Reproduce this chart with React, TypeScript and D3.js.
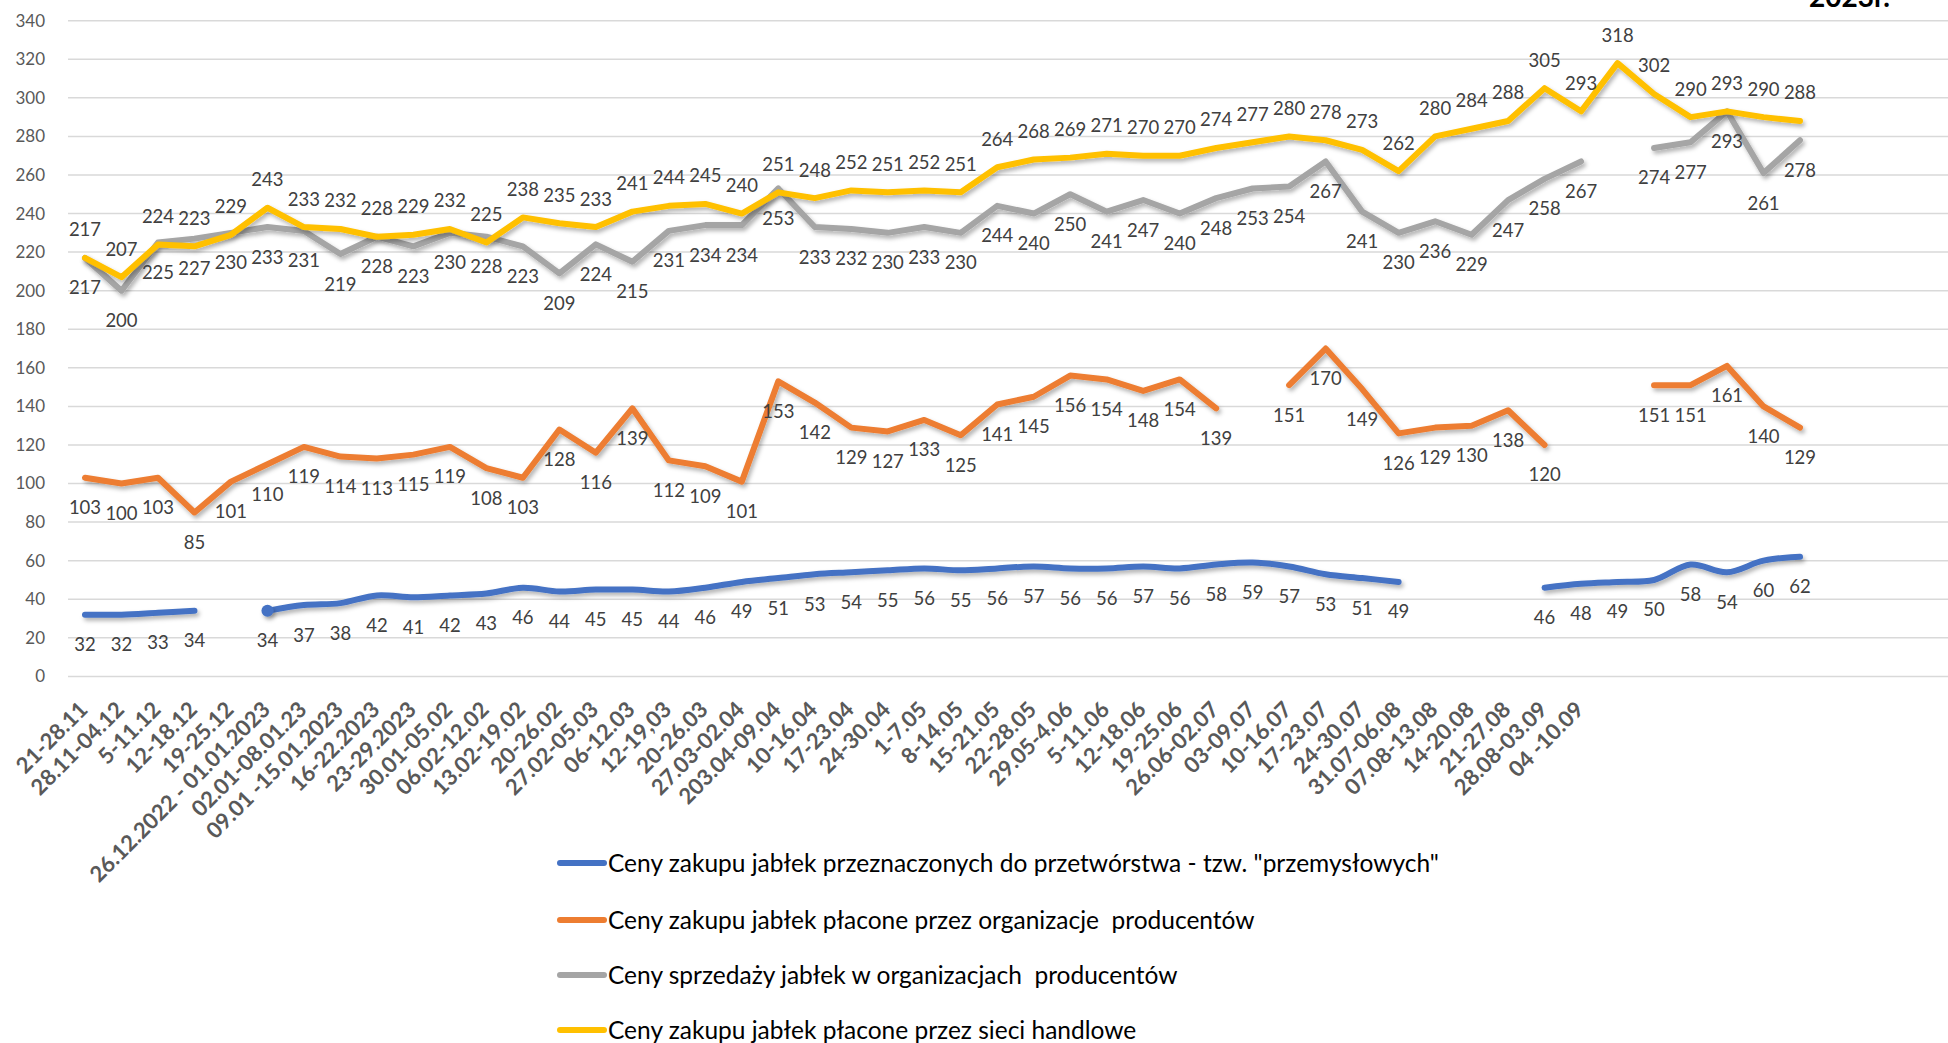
import React, { useRef, useEffect } from 'react';
import * as d3 from 'd3';

// week labels on the x axis (the last six points have no label)
const weeks = [
  '21-28.11', '28.11-04.12', '5-11.12', '12-18.12', '19-25.12',
  '26.12.2022 - 01.01.2023', '02.01-08.01.23', '09.01 -15.01.2023', '16-22.2023', '23-29.2023',
  '30.01-05.02', '06.02-12.02', '13.02-19.02', '20-26.02', '27.02-05.03',
  '06-12.03', '12-19,03', '20-26.03', '27.03-02.04', '203.04-09.04',
  '10-16.04', '17-23.04', '24-30.04', '1-7.05', '8-14.05',
  '15-21.05', '22-28.05', '29.05-4.06', '5-11.06', '12-18.06',
  '19-25.06', '26.06-02.07', '03-09.07', '10-16.07', '17-23.07',
  '24-30.07', '31.07-06.08', '07.08-13.08', '14-20.08', '21-27.08',
  '28.08-03.09', '04 -10.09',
];

const industrial = [
  32, 32, 33, 34, null, 34, 37, 38, 42, 41, 42, 43, 46, 44, 45, 45, 44, 46, 49, 51,
  53, 54, 55, 56, 55, 56, 57, 56, 56, 57, 56, 58, 59, 57, 53, 51, 49, null, null, null,
  46, 48, 49, 50, 58, 54, 60, 62,
];

const poBuying = [
  103, 100, 103, 85, 101, 110, 119, 114, 113, 115, 119, 108, 103, 128, 116, 139, 112, 109, 101, 153,
  142, 129, 127, 133, 125, 141, 145, 156, 154, 148, 154, 139, null, 151, 170, 149, 126, 129, 130, 138,
  120, null, null, 151, 151, 161, 140, 129,
];

const poSelling = [
  217, 200, 225, 227, 230, 233, 231, 219, 228, 223, 230, 228, 223, 209, 224, 215, 231, 234, 234, 253,
  233, 232, 230, 233, 230, 244, 240, 250, 241, 247, 240, 248, 253, 254, 267, 241, 230, 236, 229, 247,
  258, 267, null, 274, 277, 293, 261, 278,
];

const retail = [
  217, 207, 224, 223, 229, 243, 233, 232, 228, 229, 232, 225, 238, 235, 233, 241, 244, 245, 240, 251,
  248, 252, 251, 252, 251, 264, 268, 269, 271, 270, 270, 274, 277, 280, 278, 273, 262, 280, 284, 288,
  305, 293, 318, 302, 290, 293, 290, 288,
];

const yTicks = [0, 20, 40, 60, 80, 100, 120, 140, 160, 180, 200, 220, 240, 260, 280, 300, 320, 340];

const legendNames = [
  'Ceny zakupu jabłek przeznaczonych do przetwórstwa - tzw. "przemysłowych"',
  'Ceny zakupu jabłek płacone przez organizacje  producentów',
  'Ceny sprzedaży jabłek w organizacjach  producentów',
  'Ceny zakupu jabłek płacone przez sieci handlowe',
];

const FONT = 'Lato, "Open Sans", sans-serif';

const App = () => {
  const ref = useRef<SVGSVGElement>(null);

  useEffect(() => {
    const W = 1948;
    const H = 1043;
    const svg = d3.select(ref.current).attr('width', W).attr('height', H);
    svg.selectAll('*').remove();

    const defs = svg.append('defs');
    const f = defs
      .append('filter')
      .attr('id', 'shadow')
      .attr('filterUnits', 'userSpaceOnUse')
      .attr('x', 0)
      .attr('y', 0)
      .attr('width', W)
      .attr('height', H);
    f.append('feDropShadow')
      .attr('dx', 2)
      .attr('dy', 3)
      .attr('stdDeviation', 2)
      .attr('flood-color', '#000')
      .attr('flood-opacity', 0.3);

    const x = d3.scalePoint<number>().domain(d3.range(retail.length)).range([85, 1800]);
    const y = d3.scaleLinear().domain([0, 340]).range([676.4, 20.7]);

    // gridlines + y labels
    svg
      .append('g')
      .selectAll('line')
      .data(yTicks)
      .enter()
      .append('line')
      .attr('x1', 68)
      .attr('x2', W)
      .attr('y1', (d) => y(d))
      .attr('y2', (d) => y(d))
      .attr('stroke', '#d9d9d9')
      .attr('stroke-width', 1.5);

    svg
      .append('g')
      .selectAll('text')
      .data(yTicks)
      .enter()
      .append('text')
      .attr('x', 45)
      .attr('y', (d) => y(d))
      .attr('dy', '0.35em')
      .attr('text-anchor', 'end')
      .attr('font-family', FONT)
      .attr('font-size', 17)
      .attr('fill', '#595959')
      .text((d) => d);

    // x labels
    svg
      .append('g')
      .selectAll('text')
      .data(weeks)
      .enter()
      .append('text')
      .attr('transform', (d, i) => `translate(${x(i)! + 4},711) rotate(-45)`)
      .attr('text-anchor', 'end')
      .attr('font-family', FONT)
      .attr('font-weight', 'bold')
      .attr('font-size', 22)
      .attr('fill', '#595959')
      .text((d) => d);

    const series = [
      { values: industrial, color: '#4472C4', smooth: true, pos: 'below' },
      { values: poBuying, color: '#ED7D31', smooth: false, pos: 'below' },
      { values: poSelling, color: '#A5A5A5', smooth: false, pos: 'below' },
      { values: retail, color: '#FFC000', smooth: false, pos: 'above' },
    ];

    series.forEach((s) => {
      const line = d3
        .line<number | null>()
        .defined((d) => d != null)
        .x((d, i) => x(i)!)
        .y((d) => y(d as number))
        .curve(s.smooth ? d3.curveCatmullRom.alpha(0.5) : d3.curveLinear);

      svg
        .append('path')
        .attr('d', line(s.values))
        .attr('fill', 'none')
        .attr('stroke', s.color)
        .attr('stroke-width', 6)
        .attr('stroke-linecap', 'round')
        .attr('stroke-linejoin', 'round')
        .attr('filter', 'url(#shadow)');
    });

    // the lone marker on the blue series
    svg
      .append('circle')
      .attr('cx', x(5)!)
      .attr('cy', y(industrial[5] as number))
      .attr('r', 6)
      .attr('fill', '#4472C4')
      .attr('filter', 'url(#shadow)');

    series.forEach((s) => {
      svg
        .append('g')
        .selectAll('text')
        .data(s.values.map((v, i) => ({ v, i })).filter((d) => d.v != null))
        .enter()
        .append('text')
        .attr('x', (d) => x(d.i)!)
        .attr('y', (d) => y(d.v as number) + (s.pos === 'above' ? -28 : 30))
        .attr('dy', '0.35em')
        .attr('text-anchor', 'middle')
        .attr('font-family', FONT)
        .attr('font-size', 18.5)
        .attr('fill', '#404040')
        .text((d) => d.v as number);
    });

    // legend
    const legendY = [863, 920, 975, 1030];
    const lg = svg
      .append('g')
      .selectAll('g')
      .data(legendNames)
      .enter()
      .append('g')
      .attr('transform', (d, i) => `translate(0,${legendY[i]})`);
    lg.append('line')
      .attr('x1', 560)
      .attr('x2', 604)
      .attr('stroke', (d, i) => series[i].color)
      .attr('stroke-width', 6)
      .attr('stroke-linecap', 'round');
    lg.append('text')
      .attr('x', 608)
      .attr('dy', '0.35em')
      .attr('font-family', FONT)
      .attr('font-size', 24.5)
      .attr('fill', '#000')
      .attr('xml:space', 'preserve')
      .style('white-space', 'pre')
      .text((d) => d);

    // title, cut off at the top edge in the reference
    svg
      .append('text')
      .attr('x', 1890)
      .attr('y', 7)
      .attr('text-anchor', 'end')
      .attr('font-family', FONT)
      .attr('font-weight', 'bold')
      .attr('font-size', 28)
      .attr('fill', '#000')
      .text('2023r.');
  }, []);

  return <svg ref={ref} style={{ position: 'absolute', left: 0, top: 0, display: 'block' }}></svg>;
};

export default App;
